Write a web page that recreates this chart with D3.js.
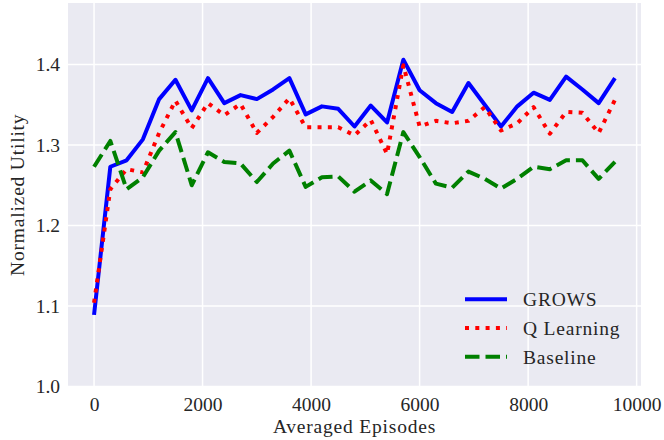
<!DOCTYPE html>
<html><head><meta charset="utf-8">
<script src="https://cdn.jsdelivr.net/npm/d3@7"></script>
<style>
html,body{margin:0;padding:0;background:#fff;}
text{font-family:"Liberation Serif","DejaVu Serif",serif;fill:#262626;}
</style></head>
<body><svg id="c" width="664" height="440"></svg>
<script>
const episodes = [0,300,600,900,1200,1500,1800,2100,2400,2700,3000,3300,3600,3900,4200,4500,4800,5100,5400,5700,6000,6300,6600,6900,7200,7500,7800,8100,8400,8700,9000,9300,9600];
const grows = [1.089,1.273,1.281,1.307,1.357,1.381,1.343,1.383,1.352,1.362,1.357,1.369,1.383,1.338,1.348,1.345,1.323,1.349,1.328,1.406,1.368,1.352,1.341,1.377,1.350,1.323,1.348,1.365,1.356,1.385,1.369,1.352,1.383];
const qLearning = [1.104,1.245,1.270,1.266,1.315,1.355,1.321,1.352,1.337,1.351,1.315,1.335,1.358,1.322,1.322,1.322,1.312,1.331,1.289,1.399,1.323,1.330,1.327,1.330,1.347,1.318,1.327,1.347,1.314,1.341,1.340,1.315,1.356];
const baseline = [1.273,1.305,1.245,1.260,1.293,1.316,1.250,1.291,1.279,1.277,1.254,1.277,1.293,1.248,1.260,1.261,1.242,1.256,1.239,1.316,1.285,1.252,1.247,1.267,1.258,1.246,1.258,1.273,1.270,1.281,1.281,1.258,1.279];
const seriesNames = ["GROWS","Q Learning","Baseline"];
const xTicks = [0,2000,4000,6000,8000,10000];
const yTicks = [1.0,1.1,1.2,1.3,1.4];

const svg = d3.select("#c");
const L=68, R=641, T=3, B=386.5;
const x = d3.scaleLinear().domain([-480,10080]).range([L,R]);
const y = d3.scaleLinear().domain([1.0,1.4764]).range([B,T]);

svg.append("rect").attr("x",L).attr("y",T).attr("width",R-L).attr("height",B-T).attr("fill","#EAEAF2");
const g = svg.append("g");
g.selectAll(".gx").data(xTicks).join("line").attr("x1",d=>x(d)).attr("x2",d=>x(d)).attr("y1",T).attr("y2",B)
 .attr("stroke","#fff").attr("stroke-width",1.5);
g.selectAll(".gy").data(yTicks).join("line").attr("y1",d=>y(d)).attr("y2",d=>y(d)).attr("x1",L).attr("x2",R)
 .attr("stroke","#fff").attr("stroke-width",1.5);

const xa = svg.append("g").attr("transform",`translate(0,${B})`)
 .call(d3.axisBottom(x).tickValues(xTicks).tickSize(0).tickPadding(11).tickFormat(d3.format("d")));
xa.select(".domain").remove();
xa.selectAll("text").attr("font-size",19.5).attr("fill","#262626").style("font-family","'Liberation Serif',serif");
const ya = svg.append("g").attr("transform",`translate(${L},0)`)
 .call(d3.axisLeft(y).tickValues(yTicks).tickSize(0).tickPadding(8).tickFormat(d3.format(".1f")));
ya.select(".domain").remove();
ya.selectAll("text").attr("font-size",19.5).attr("fill","#262626").style("font-family","'Liberation Serif',serif");

svg.append("text").attr("x",(L+R)/2).attr("y",433).attr("text-anchor","middle").attr("font-size",19.5)
 .attr("letter-spacing","0.8px").text("Averaged Episodes");
svg.append("text").attr("transform",`translate(24,${(T+B)/2}) rotate(-90)`).attr("text-anchor","middle").attr("font-size",19.5)
 .attr("letter-spacing","0.8px").text("Normalized Utility");

const styles = [
 {data:grows,color:"#0000FF",dash:null},
 {data:qLearning,color:"#FF0000",dash:"4,6.3"},
 {data:baseline,color:"#008000",dash:"14.5,6"}
];
const line = d3.line().x((d,i)=>x(episodes[i])).y(d=>y(d));
styles.forEach(s=>{
 svg.append("path").datum(s.data).attr("d",line).attr("fill","none").attr("stroke",s.color)
  .attr("stroke-width",4).attr("stroke-dasharray",s.dash).attr("stroke-linejoin","round");
});

const lg = svg.append("g");
seriesNames.forEach((n,i)=>{
 const yy = 299.3 + i*28.7;
 lg.append("line").attr("x1",465).attr("x2",507).attr("y1",yy).attr("y2",yy).attr("stroke",styles[i].color)
  .attr("stroke-width",4).attr("stroke-dasharray",styles[i].dash);
 lg.append("text").attr("x",523).attr("y",yy+7).attr("font-size",19.5).attr("letter-spacing","0.8px").text(n);
});
</script></body></html>
